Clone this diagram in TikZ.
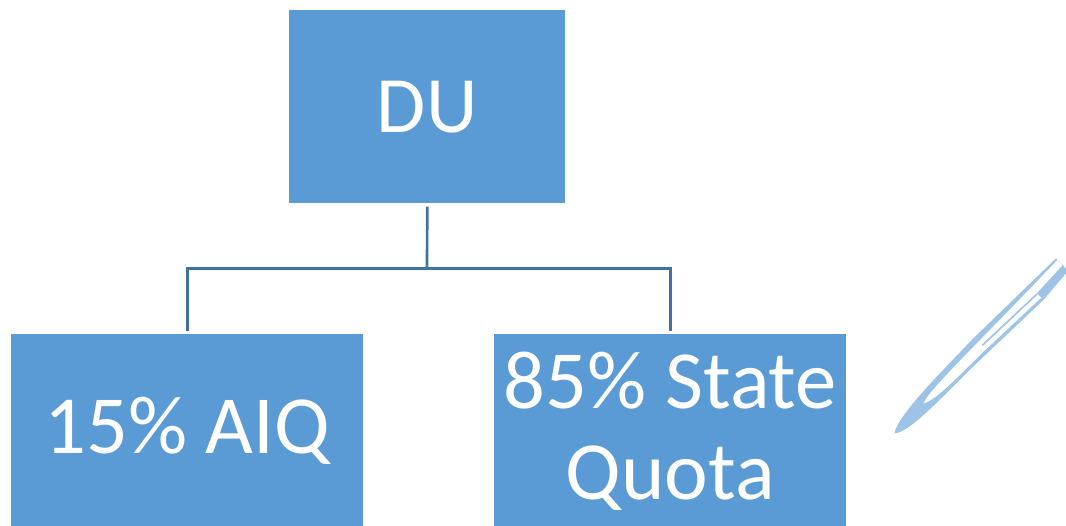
\documentclass[tikz,border=0pt]{standalone}
\usepackage{fontspec}
\setmainfont{Carlito}
\definecolor{boxblue}{HTML}{5B9BD5}
\definecolor{linkblue}{HTML}{41719C}
\definecolor{penblue}{HTML}{9DC3E6}
\tikzset{
  box/.style={fill=boxblue,draw=none,inner sep=0pt,text=white,align=center,anchor=north west},
  link/.style={draw=linkblue,line width=2pt},
}
\begin{document}
\begin{tikzpicture}[x=0.75pt,y=-0.75pt]
\useasboundingbox (0,0) rectangle (1066,525);
\node[box,minimum width=207pt,minimum height=144.75pt,font=\fontsize{60}{66}\selectfont] (du) at (289,10) {DU};
\node[box,minimum width=264pt,minimum height=145pt,font=\fontsize{62}{68}\selectfont] (aiq) at (11,334) {15\% AIQ};
\node[box,minimum width=264pt,minimum height=145pt,font=\fontsize{62}{68}\selectfont] (state) at (494,334) {85\% State\\Quota};
\coordinate (j) at (427,268.5);
\draw[link,shorten <=2.25pt] (du.south) -- (j);
\draw[link,shorten >=2.5pt] (j) -| (aiq.north);
\draw[link,shorten >=2.5pt] (j) -| (state.north);
\begin{scope}[shift={(880,245)},x=0.25pt,y=-0.25pt]
\fill[penblue] (43,565) .. controls (55,510) and (170,395) .. (280,280) -- (528,40) -- (548,60)
  -- (558,72) -- (558,85) -- (490,165) -- (300,345) .. controls (200,440) and (90,565) .. (43,565) -- cycle;
\fill[white] (130,475) .. controls (150,430) and (300,290) .. (532,45) -- (548,60) -- (470,145)
  -- (484,158) -- (478,163) -- (300,330) .. controls (220,410) and (160,470) .. (130,475) -- cycle;
\draw[penblue,line width=1.2pt,line cap=round] (308,300) -- (470,148);
\end{scope}
\end{tikzpicture}
\end{document}
